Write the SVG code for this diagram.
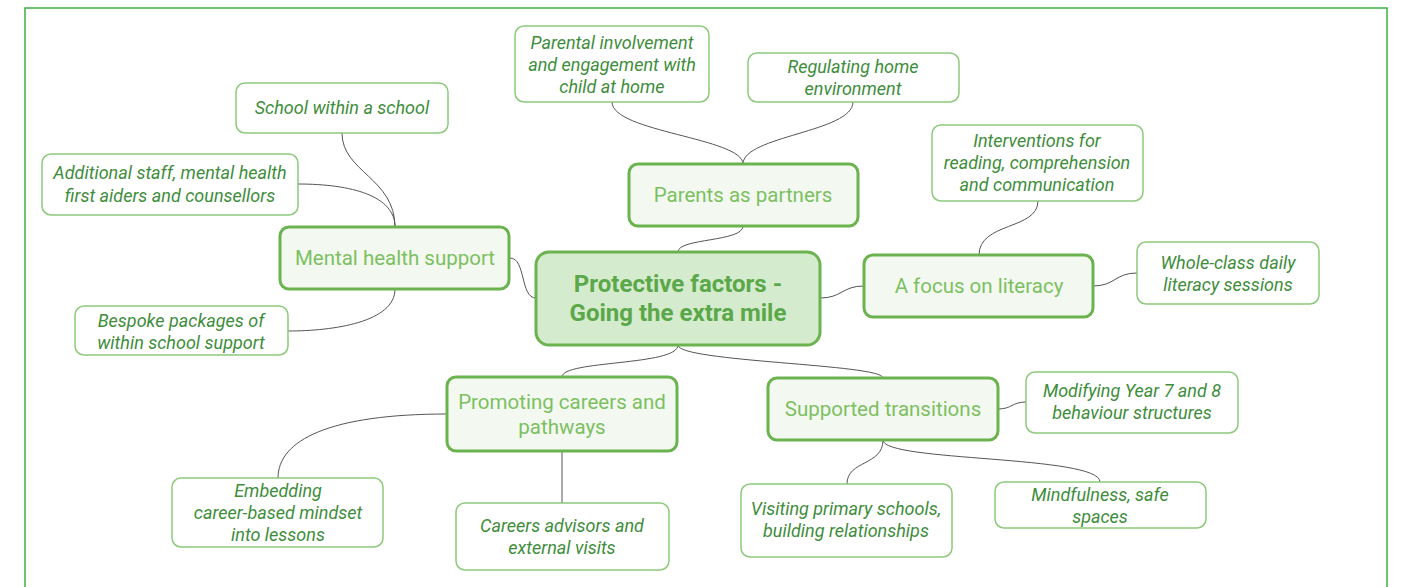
<svg xmlns="http://www.w3.org/2000/svg" width="1401" height="587" viewBox="0 0 1401 587">
<style>
.frame{fill:#fff;stroke:#3cb043;stroke-width:1.5}
.leaf rect{fill:#fff;stroke:#8dc97a;stroke-width:1.5}
.leaf text{font-family:Roboto,"Liberation Sans",sans-serif;font-style:italic;font-size:18px;fill:#3e8d3b;text-anchor:middle}
.branch rect{fill:#f3f9f0;stroke:#6bb34f;stroke-width:3}
.branch text{font-family:Roboto,"Liberation Sans",sans-serif;font-size:20.5px;fill:#7cc062;text-anchor:middle}
.central rect{fill:#d5ebcd;stroke:#6bb34f;stroke-width:3}
.central text{font-family:Roboto,"Liberation Sans",sans-serif;font-weight:bold;font-size:24px;fill:#5aa84a;text-anchor:middle}
.conn path{fill:none;stroke:#555;stroke-width:1}
</style>
<rect class="frame" x="25" y="8" width="1362" height="600"/>
<g id="connectors" class="conn">
<path d="M678,252 C678,238 743,242 743,226"/>
<path d="M743,164 C743,138 612,132 612,102"/>
<path d="M743,164 C743,136 853,132 853,102"/>
<path d="M536,298 C520,298 526,258 510,258"/>
<path d="M395,227 C395,178 342,172 342,133"/>
<path d="M395,227 C395,196 352,184 298,184"/>
<path d="M395,289 C395,322 334,331 288,331"/>
<path d="M820,298 C842,298 842,286 864,286"/>
<path d="M979,255 C979,222 1038,230 1038,201"/>
<path d="M1093,286 C1115,286 1115,273 1137,273"/>
<path d="M678,345 C678,366 562,360 562,377"/>
<path d="M678,345 C678,362 883,364 883,378"/>
<path d="M447,414 C330,414 278,440 278,478"/>
<path d="M562,451 L562,503"/>
<path d="M998,409 C1012,409 1012,402 1026,402"/>
<path d="M883,440 C883,466 847,460 847,484"/>
<path d="M883,440 C883,462 1100,455 1100,482"/>
</g>
<g id="central" class="central">
<rect x="536" y="252" width="284" height="93" rx="13"/>
<text x="678" y="292">Protective factors -</text>
<text x="678" y="321">Going the extra mile</text>
</g>
<g id="parents" class="branch">
<rect x="629" y="164" width="229" height="62" rx="9"/>
<text x="743" y="202">Parents as partners</text>
</g>
<g id="mental" class="branch">
<rect x="280" y="227" width="229" height="62" rx="9"/>
<text x="395" y="265">Mental health support</text>
</g>
<g id="literacy" class="branch">
<rect x="864" y="255" width="229" height="62" rx="9"/>
<text x="979" y="293">A focus on literacy</text>
</g>
<g id="careers" class="branch">
<rect x="447" y="377" width="230" height="74" rx="9"/>
<text x="562" y="409">Promoting careers and</text>
<text x="562" y="434">pathways</text>
</g>
<g id="transitions" class="branch">
<rect x="768" y="378" width="230" height="62" rx="9"/>
<text x="883" y="416">Supported transitions</text>
</g>
<g id="school" class="leaf">
<rect x="236" y="83" width="212" height="50" rx="9"/>
<text x="342" y="114">School within a school</text>
</g>
<g id="additional" class="leaf">
<rect x="42" y="154" width="256" height="61" rx="9"/>
<text x="170" y="179">Additional staff, mental health</text>
<text x="170" y="202">first aiders and counsellors</text>
</g>
<g id="bespoke" class="leaf">
<rect x="75" y="306" width="213" height="49" rx="9"/>
<text x="181" y="327">Bespoke packages of</text>
<text x="181" y="349">within school support</text>
</g>
<g id="parental" class="leaf">
<rect x="515" y="26" width="194" height="76" rx="9"/>
<text x="612" y="49">Parental involvement</text>
<text x="612" y="71">and engagement with</text>
<text x="612" y="93">child at home</text>
</g>
<g id="regulating" class="leaf">
<rect x="748" y="53" width="211" height="49" rx="9"/>
<text x="853" y="73">Regulating home</text>
<text x="853" y="95">environment</text>
</g>
<g id="interventions" class="leaf">
<rect x="932" y="125" width="211" height="76" rx="9"/>
<text x="1037" y="147">Interventions for</text>
<text x="1037" y="169">reading, comprehension</text>
<text x="1037" y="191">and communication</text>
</g>
<g id="wholeclass" class="leaf">
<rect x="1137" y="242" width="182" height="62" rx="9"/>
<text x="1228" y="269">Whole-class daily</text>
<text x="1228" y="291">literacy sessions</text>
</g>
<g id="embedding" class="leaf">
<rect x="172" y="478" width="211" height="69" rx="9"/>
<text x="278" y="497">Embedding</text>
<text x="278" y="519">career-based mindset</text>
<text x="278" y="541">into lessons</text>
</g>
<g id="advisors" class="leaf">
<rect x="456" y="503" width="213" height="67" rx="9"/>
<text x="562" y="532">Careers advisors and</text>
<text x="562" y="554">external visits</text>
</g>
<g id="modifying" class="leaf">
<rect x="1026" y="372" width="212" height="61" rx="9"/>
<text x="1132" y="397">Modifying Year 7 and 8</text>
<text x="1132" y="419">behaviour structures</text>
</g>
<g id="visiting" class="leaf">
<rect x="741" y="484" width="211" height="73" rx="9"/>
<text x="846" y="515">Visiting primary schools,</text>
<text x="846" y="537">building relationships</text>
</g>
<g id="mindfulness" class="leaf">
<rect x="995" y="482" width="211" height="46" rx="9"/>
<text x="1100" y="501">Mindfulness, safe</text>
<text x="1100" y="523">spaces</text>
</g>
</svg>
